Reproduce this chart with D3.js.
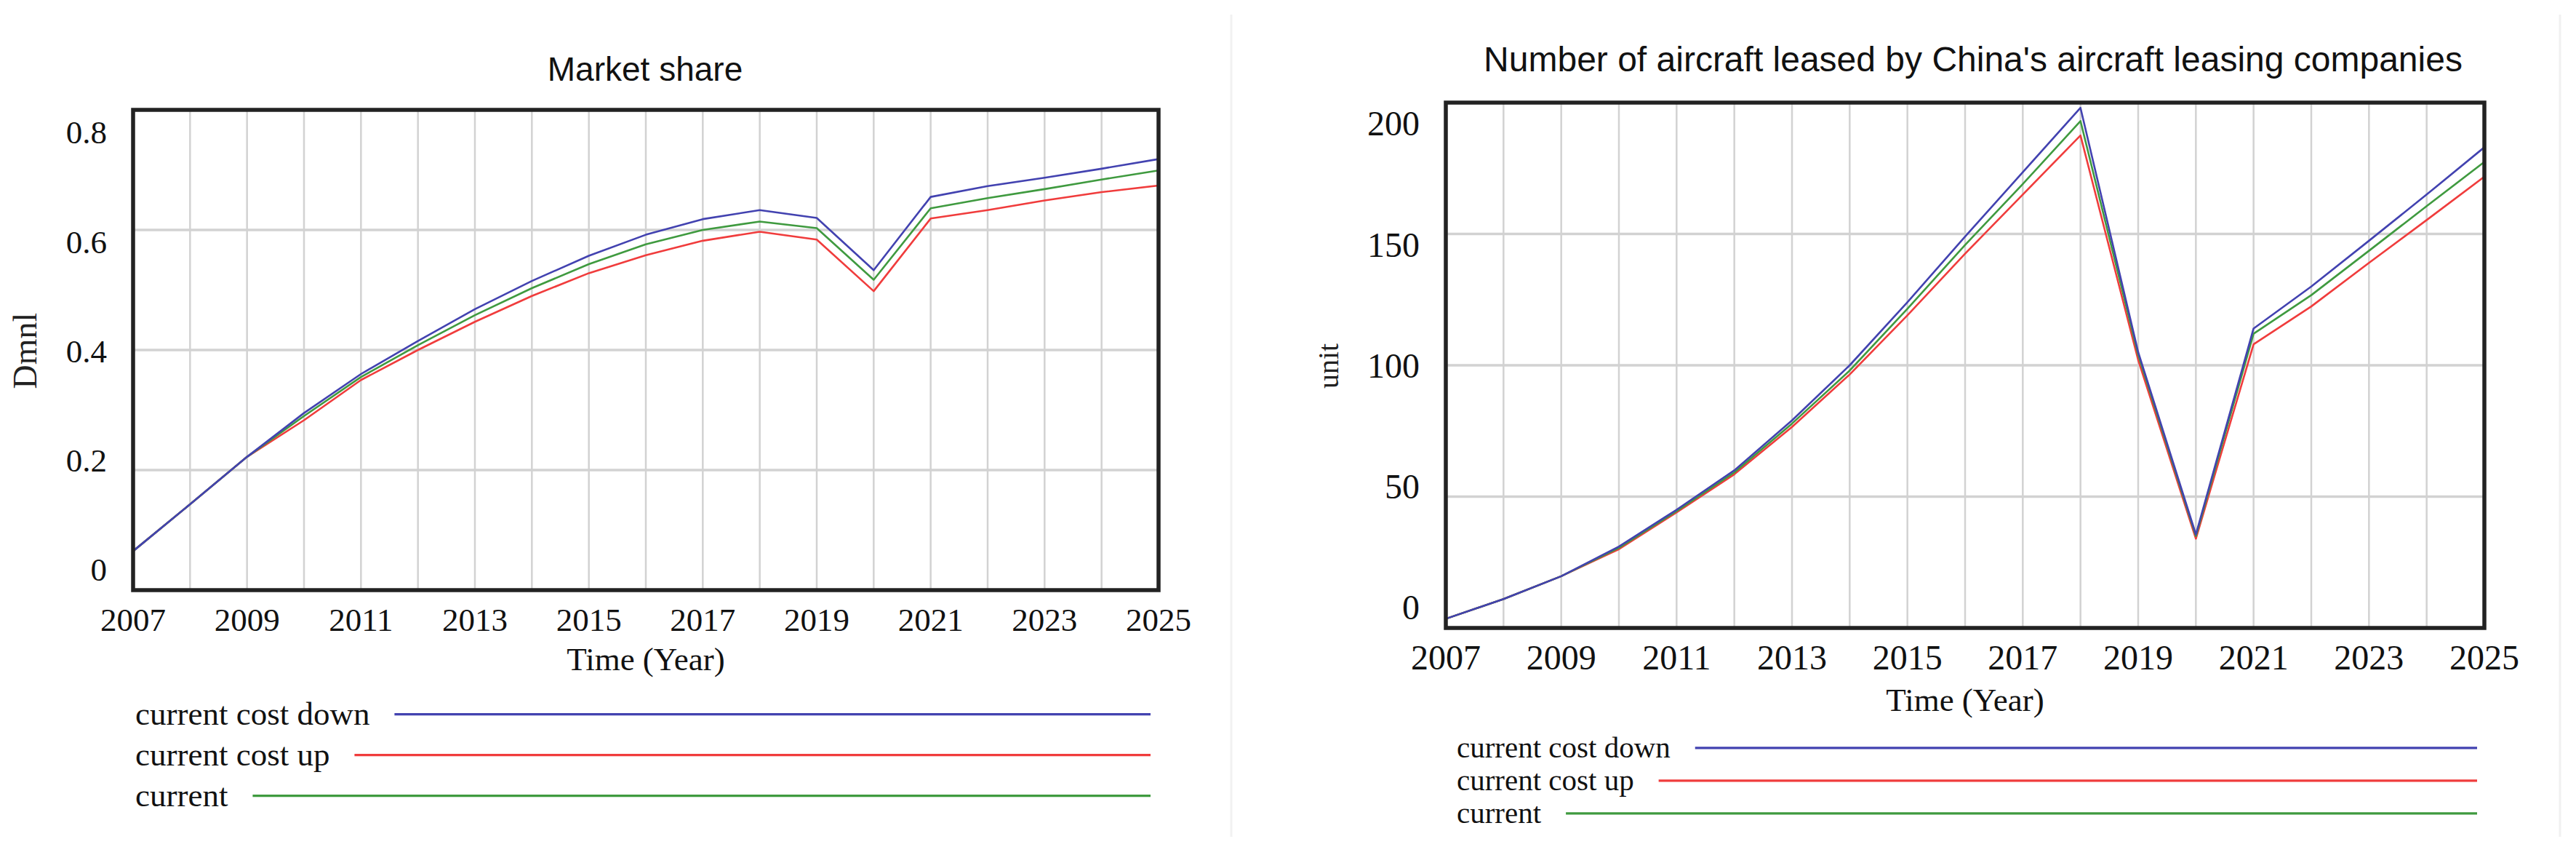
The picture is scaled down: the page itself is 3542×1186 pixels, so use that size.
<!DOCTYPE html>
<html>
<head>
<meta charset="utf-8">
<script src="https://cdn.jsdelivr.net/npm/d3@7"></script>
<style>
  body { margin: 0; background: #fff; }
  svg { display: block; }
</style>
</head>
<body>
<div id="graph"></div>
<script>
var years = [2007, 2008, 2009, 2010, 2011, 2012, 2013, 2014, 2015, 2016,
             2017, 2018, 2019, 2020, 2021, 2022, 2023, 2024, 2025];
var yearTicks = [2007, 2009, 2011, 2013, 2015, 2017, 2019, 2021, 2023, 2025];

// market share (Dmnl)
var shareDown    = [0.065, 0.143, 0.222, 0.295, 0.360, 0.415, 0.468, 0.515, 0.557, 0.592,
                    0.618, 0.633, 0.620, 0.533, 0.655, 0.673, 0.687, 0.702, 0.718];
var shareUp      = [0.065, 0.143, 0.222, 0.283, 0.350, 0.400, 0.447, 0.490, 0.528, 0.558,
                    0.582, 0.597, 0.584, 0.498, 0.619, 0.633, 0.649, 0.663, 0.674];
var shareCurrent = [0.065, 0.143, 0.222, 0.290, 0.355, 0.408, 0.458, 0.503, 0.543, 0.576,
                    0.600, 0.614, 0.603, 0.517, 0.636, 0.653, 0.668, 0.684, 0.699];
var shareTicks = [0, 0.2, 0.4, 0.6, 0.8];

// aircraft leased (unit)
var fleetDown    = [3.5, 11, 19.7, 31, 45, 60, 79, 100, 124, 149,
                    173.5, 198, 105, 35.6, 114, 130, 147.4, 165, 183];
var fleetUp      = [3.5, 11, 19.7, 30, 44, 58.5, 76.5, 96.5, 119, 142.5,
                    165, 187.5, 102, 34, 108, 122.4, 139, 155.3, 171.8];
var fleetCurrent = [3.5, 11, 19.7, 30.5, 44.5, 59.2, 77.8, 98, 121.5, 145.8,
                    169, 193, 104, 35, 112, 126.7, 143.6, 160.6, 177.4];
var fleetTicks = [0, 50, 100, 150, 200];

var seriesNames = ["current cost down", "current cost up", "current"];
var seriesColors = ["#4242b0", "#f03c3c", "#3f9a3f"];

var W = 3542, H = 1186;
var svg = d3.select("#graph").append("svg")
    .attr("width", W).attr("height", H);

// faint panel separators
[1693, 3520].forEach(function(x) {
  svg.append("line")
     .attr("x1", x).attr("x2", x).attr("y1", 20).attr("y2", 1150)
     .attr("stroke", "#f1f1f1").attr("stroke-width", 3);
});

function drawChart(cfg) {
  var x = d3.scaleLinear().domain([2007, 2025]).range([cfg.left, cfg.right]),
      y = d3.scaleLinear().domain(cfg.yDomain).range([cfg.bottom, cfg.top]),
      yLab = d3.scaleLinear().domain(cfg.yDomain).range(cfg.labelRange);

  var g = svg.append("g");

  // grid
  g.selectAll(".vgrid").data(years).enter().append("line")
    .attr("x1", function(d) { return x(d); }).attr("x2", function(d) { return x(d); })
    .attr("y1", cfg.top).attr("y2", cfg.bottom)
    .attr("stroke", "#d2d2d2").attr("stroke-width", 2.5);
  g.selectAll(".hgrid").data(cfg.yTicks).enter().append("line")
    .attr("x1", cfg.left).attr("x2", cfg.right)
    .attr("y1", function(d) { return y(d); }).attr("y2", function(d) { return y(d); })
    .attr("stroke", "#d2d2d2").attr("stroke-width", 3.5);

  // lines: up, current, down (down on top)
  var line = d3.line()
    .x(function(d, i) { return x(years[i]); })
    .y(function(d) { return y(d); });
  [1, 2, 0].forEach(function(k) {
    g.append("path")
      .datum(cfg.series[k])
      .attr("fill", "none")
      .attr("stroke", seriesColors[k])
      .attr("stroke-width", 2.6)
      .attr("stroke-linejoin", "round")
      .attr("d", line);
  });

  // frame
  g.append("rect")
    .attr("x", cfg.left).attr("y", cfg.top)
    .attr("width", cfg.right - cfg.left).attr("height", cfg.bottom - cfg.top)
    .attr("fill", "none").attr("stroke", "#222").attr("stroke-width", 5.5);

  // y tick labels
  g.selectAll(".ylab").data(cfg.yTicks).enter().append("text")
    .attr("x", cfg.left - cfg.yLabGap)
    .attr("y", function(d) { return yLab(d); })
    .attr("dy", "0.34em")
    .attr("text-anchor", "end")
    .attr("font-family", "Liberation Serif, serif")
    .attr("font-size", cfg.tickFont)
    .attr("fill", "#111")
    .text(function(d) { return d; });

  // x tick labels
  g.selectAll(".xlab").data(yearTicks).enter().append("text")
    .attr("x", function(d) { return x(d); })
    .attr("y", cfg.xLabY)
    .attr("text-anchor", "middle")
    .attr("font-family", "Liberation Serif, serif")
    .attr("font-size", cfg.tickFont)
    .attr("fill", "#111")
    .text(function(d) { return d; });

  // title
  g.append("text")
    .attr("x", cfg.titleX).attr("y", cfg.titleY)
    .attr("text-anchor", "middle")
    .attr("font-family", "Liberation Sans, Arial, sans-serif")
    .attr("font-size", cfg.titleFont)
    .attr("fill", "#111")
    .text(cfg.title);

  // axis titles
  g.append("text")
    .attr("x", (cfg.left + cfg.right) / 2).attr("y", cfg.xTitleY)
    .attr("text-anchor", "middle")
    .attr("font-family", "Liberation Serif, serif")
    .attr("font-size", cfg.axisFont)
    .attr("fill", "#111")
    .text("Time (Year)");
  g.append("text")
    .attr("transform", "translate(" + cfg.yTitleX + "," + cfg.yTitleY + ") rotate(-90)")
    .attr("dy", "0.35em")
    .attr("text-anchor", "middle")
    .attr("font-family", "Liberation Serif, serif")
    .attr("font-size", cfg.yTitleFont)
    .attr("fill", "#222")
    .text(cfg.yTitle);

  // legend
  seriesNames.forEach(function(name, i) {
    var by = cfg.legendY + i * cfg.legendStep;
    var t = g.append("text")
      .attr("x", cfg.legendX).attr("y", by)
      .attr("font-family", "Liberation Serif, serif")
      .attr("font-size", cfg.legendFont)
      .attr("fill", "#111")
      .text(name);
    var tw = t.node().getComputedTextLength();
    g.append("line")
      .attr("x1", cfg.legendX + tw + 34).attr("x2", cfg.legendEnd)
      .attr("y1", by - cfg.legendFont * 0.32).attr("y2", by - cfg.legendFont * 0.32)
      .attr("stroke", seriesColors[i]).attr("stroke-width", 3.2);
  });
}

drawChart({
  left: 183, right: 1593, top: 151, bottom: 811,
  yDomain: [0, 0.8], yTicks: shareTicks, labelRange: [783, 182],
  series: [shareDown, shareUp, shareCurrent],
  yLabGap: 36, tickFont: 45, xLabY: 867,
  title: "Market share", titleX: 887, titleY: 111, titleFont: 46,
  xTitleY: 921, axisFont: 45,
  yTitle: "Dmnl", yTitleX: 34, yTitleY: 482, yTitleFont: 46,
  legendX: 186, legendY: 996, legendStep: 56, legendFont: 45, legendEnd: 1582
});

drawChart({
  left: 1988, right: 3416, top: 141, bottom: 863,
  yDomain: [0, 200], yTicks: fleetTicks, labelRange: [835, 170],
  series: [fleetDown, fleetUp, fleetCurrent],
  yLabGap: 36, tickFont: 48, xLabY: 920,
  title: "Number of aircraft leased by China's aircraft leasing companies",
  titleX: 2713, titleY: 98, titleFont: 48,
  xTitleY: 977, axisFont: 45,
  yTitle: "unit", yTitleX: 1826, yTitleY: 503, yTitleFont: 40,
  legendX: 2003, legendY: 1041, legendStep: 45, legendFont: 41, legendEnd: 3406
});
</script>
</body>
</html>
